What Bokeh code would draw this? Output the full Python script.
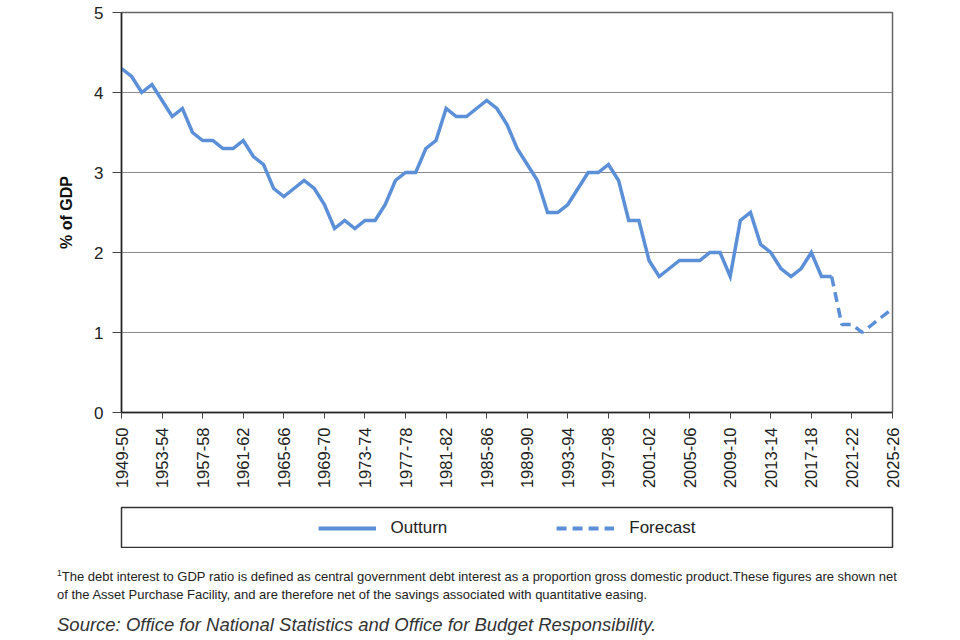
from math import pi
import numpy as np
from bokeh.plotting import figure
from bokeh.models import Range1d, FixedTicker, Div
from bokeh.layouts import column
from bokeh.embed import file_html
from bokeh.resources import INLINE

# ---------------- data ----------------
years = [
    "1949-50", "1950-51", "1951-52", "1952-53", "1953-54", "1954-55", "1955-56", "1956-57",
    "1957-58", "1958-59", "1959-60", "1960-61", "1961-62", "1962-63", "1963-64", "1964-65",
    "1965-66", "1966-67", "1967-68", "1968-69", "1969-70", "1970-71", "1971-72", "1972-73",
    "1973-74", "1974-75", "1975-76", "1976-77", "1977-78", "1978-79", "1979-80", "1980-81",
    "1981-82", "1982-83", "1983-84", "1984-85", "1985-86", "1986-87", "1987-88", "1988-89",
    "1989-90", "1990-91", "1991-92", "1992-93", "1993-94", "1994-95", "1995-96", "1996-97",
    "1997-98", "1998-99", "1999-00", "2000-01", "2001-02", "2002-03", "2003-04", "2004-05",
    "2005-06", "2006-07", "2007-08", "2008-09", "2009-10", "2010-11", "2011-12", "2012-13",
    "2013-14", "2014-15", "2015-16", "2016-17", "2017-18", "2018-19", "2019-20", "2020-21",
    "2021-22", "2022-23", "2023-24", "2024-25", "2025-26",
]
outturn = [
    4.3, 4.2, 4.0, 4.1, 3.9, 3.7, 3.8, 3.5, 3.4, 3.4,
    3.3, 3.3, 3.4, 3.2, 3.1, 2.8, 2.7, 2.8, 2.9, 2.8,
    2.6, 2.3, 2.4, 2.3, 2.4, 2.4, 2.6, 2.9, 3.0, 3.0,
    3.3, 3.4, 3.8, 3.7, 3.7, 3.8, 3.9, 3.8, 3.6, 3.3,
    3.1, 2.9, 2.5, 2.5, 2.6, 2.8, 3.0, 3.0, 3.1, 2.9,
    2.4, 2.4, 1.9, 1.7, 1.8, 1.9, 1.9, 1.9, 2.0, 2.0,
    1.7, 2.4, 2.5, 2.1, 2.0, 1.8, 1.7, 1.8, 2.0, 1.7,
    1.7,
]
forecast_years = years[70:]
forecast = [1.7, 1.1, 1.1, 1.0, 1.1, 1.2, 1.3]
tick_years = years[::4]
y_ticks = [0, 1, 2, 3, 4, 5]

footnote_1 = ("<sup style='font-size:8.5px; line-height:0;'>1</sup>The debt interest to GDP ratio is defined as central government debt interest "
              "as a proportion gross domestic product.These figures are shown net")
footnote_2 = ("of the Asset Purchase Facility, and are therefore net of the savings "
              "associated with quantitative easing.")
source_text = "Source: Office for National Statistics and Office for Budget Responsibility."

# ---------------- styling ----------------
FONT = "Liberation Sans"
BLUE = "#5B8FD8"
W = 944

idx = {y: i for i, y in enumerate(years)}
x_out = [idx[y] for y in years[:len(outturn)]]
x_fc = [idx[y] for y in forecast_years]

p = figure(width=W, height=498, output_backend="svg", toolbar_location=None,
           x_range=Range1d(0, len(years) - 1), y_range=Range1d(0, 5),
           min_border_left=121, min_border_right=52, min_border_top=12, min_border_bottom=86)
p.line(x_out, outturn, line_color=BLUE, line_width=3.5, line_join="miter")
p.line(x_fc, forecast, line_color=BLUE, line_width=3.5, line_dash="10 6")

p.xgrid.visible = False
p.ygrid.grid_line_color = "#8a8a8a"
p.ygrid.grid_line_width = 1
p.outline_line_color = "#666666"
p.outline_line_width = 1.5

p.xaxis.ticker = FixedTicker(ticks=[idx[y] for y in tick_years])
p.xaxis.major_label_overrides = {idx[y]: y for y in tick_years}
p.xaxis.major_label_orientation = pi / 2
p.xaxis.minor_tick_line_color = None
p.xaxis.major_tick_in = 0
p.xaxis.major_tick_out = 6
p.xaxis.major_label_standoff = 9
p.xaxis.major_label_text_font = FONT
p.xaxis.major_label_text_font_size = "16.5px"
p.xaxis.major_label_text_color = "#222222"

p.yaxis.ticker = FixedTicker(ticks=y_ticks)
p.yaxis.minor_tick_line_color = None
p.yaxis.major_tick_in = 0
p.yaxis.major_tick_out = 9
p.yaxis.major_label_standoff = 9
p.yaxis.major_label_text_font = FONT
p.yaxis.major_label_text_font_size = "17px"
p.yaxis.major_label_text_color = "#222222"
p.yaxis.axis_label = "% of GDP"
p.yaxis.axis_label_text_font = FONT
p.yaxis.axis_label_text_font_style = "bold"
p.yaxis.axis_label_text_font_size = "16px"
p.yaxis.axis_label_text_color = "#111111"
p.yaxis.axis_label_standoff = 16

for ax in (p.xaxis, p.yaxis):
    ax.axis_line_color = "#222222"
    ax.axis_line_width = 1.5
    ax.major_tick_line_color = "#444444"

# ---------------- legend box ----------------
q = figure(width=W, height=50, output_backend="svg", toolbar_location=None,
           x_range=Range1d(0, 1), y_range=Range1d(0, 1),
           min_border_left=121, min_border_right=52, min_border_top=9, min_border_bottom=0,
           x_axis_type=None, y_axis_type=None)
q.grid.visible = False
q.outline_line_color = "#333333"
q.outline_line_width = 1.5
q.line([np.nan], [np.nan], line_color=BLUE, line_width=4, legend_label="Outturn")
q.line([np.nan], [np.nan], line_color=BLUE, line_width=4, line_dash="10 6", legend_label="Forecast")
lg = q.legend[0]
lg.location = "center"
lg.orientation = "horizontal"
lg.background_fill_alpha = 0
lg.border_line_alpha = 0
lg.glyph_width = 58
lg.glyph_height = 20
lg.label_standoff = 15
lg.spacing = 109
lg.padding = 0
lg.margin = 0
lg.label_text_font = FONT
lg.label_text_font_size = "17px"
lg.label_text_color = "#222222"

# ---------------- footnotes ----------------
notes = Div(
    width=W, height=88, margin=0,
    text=(
        "<div style=\"font-family:'Liberation Sans', Arial, sans-serif; padding-left:57px; color:#222; margin:0;\">"
        f"<div style='font-size:13px; line-height:18px; margin-top:20px; white-space:nowrap;'>{footnote_1}</div>"
        f"<div style='font-size:13px; line-height:18px; white-space:nowrap;'>{footnote_2}</div>"
        f"<div style='font-size:18.5px; font-style:italic; line-height:22px; margin-top:10px; "
        f"color:#333; white-space:nowrap;'>{source_text}</div>"
        "</div>"
    ),
)

layout = column(p, q, notes)
open("out.html", "w").write(file_html(layout, INLINE))
